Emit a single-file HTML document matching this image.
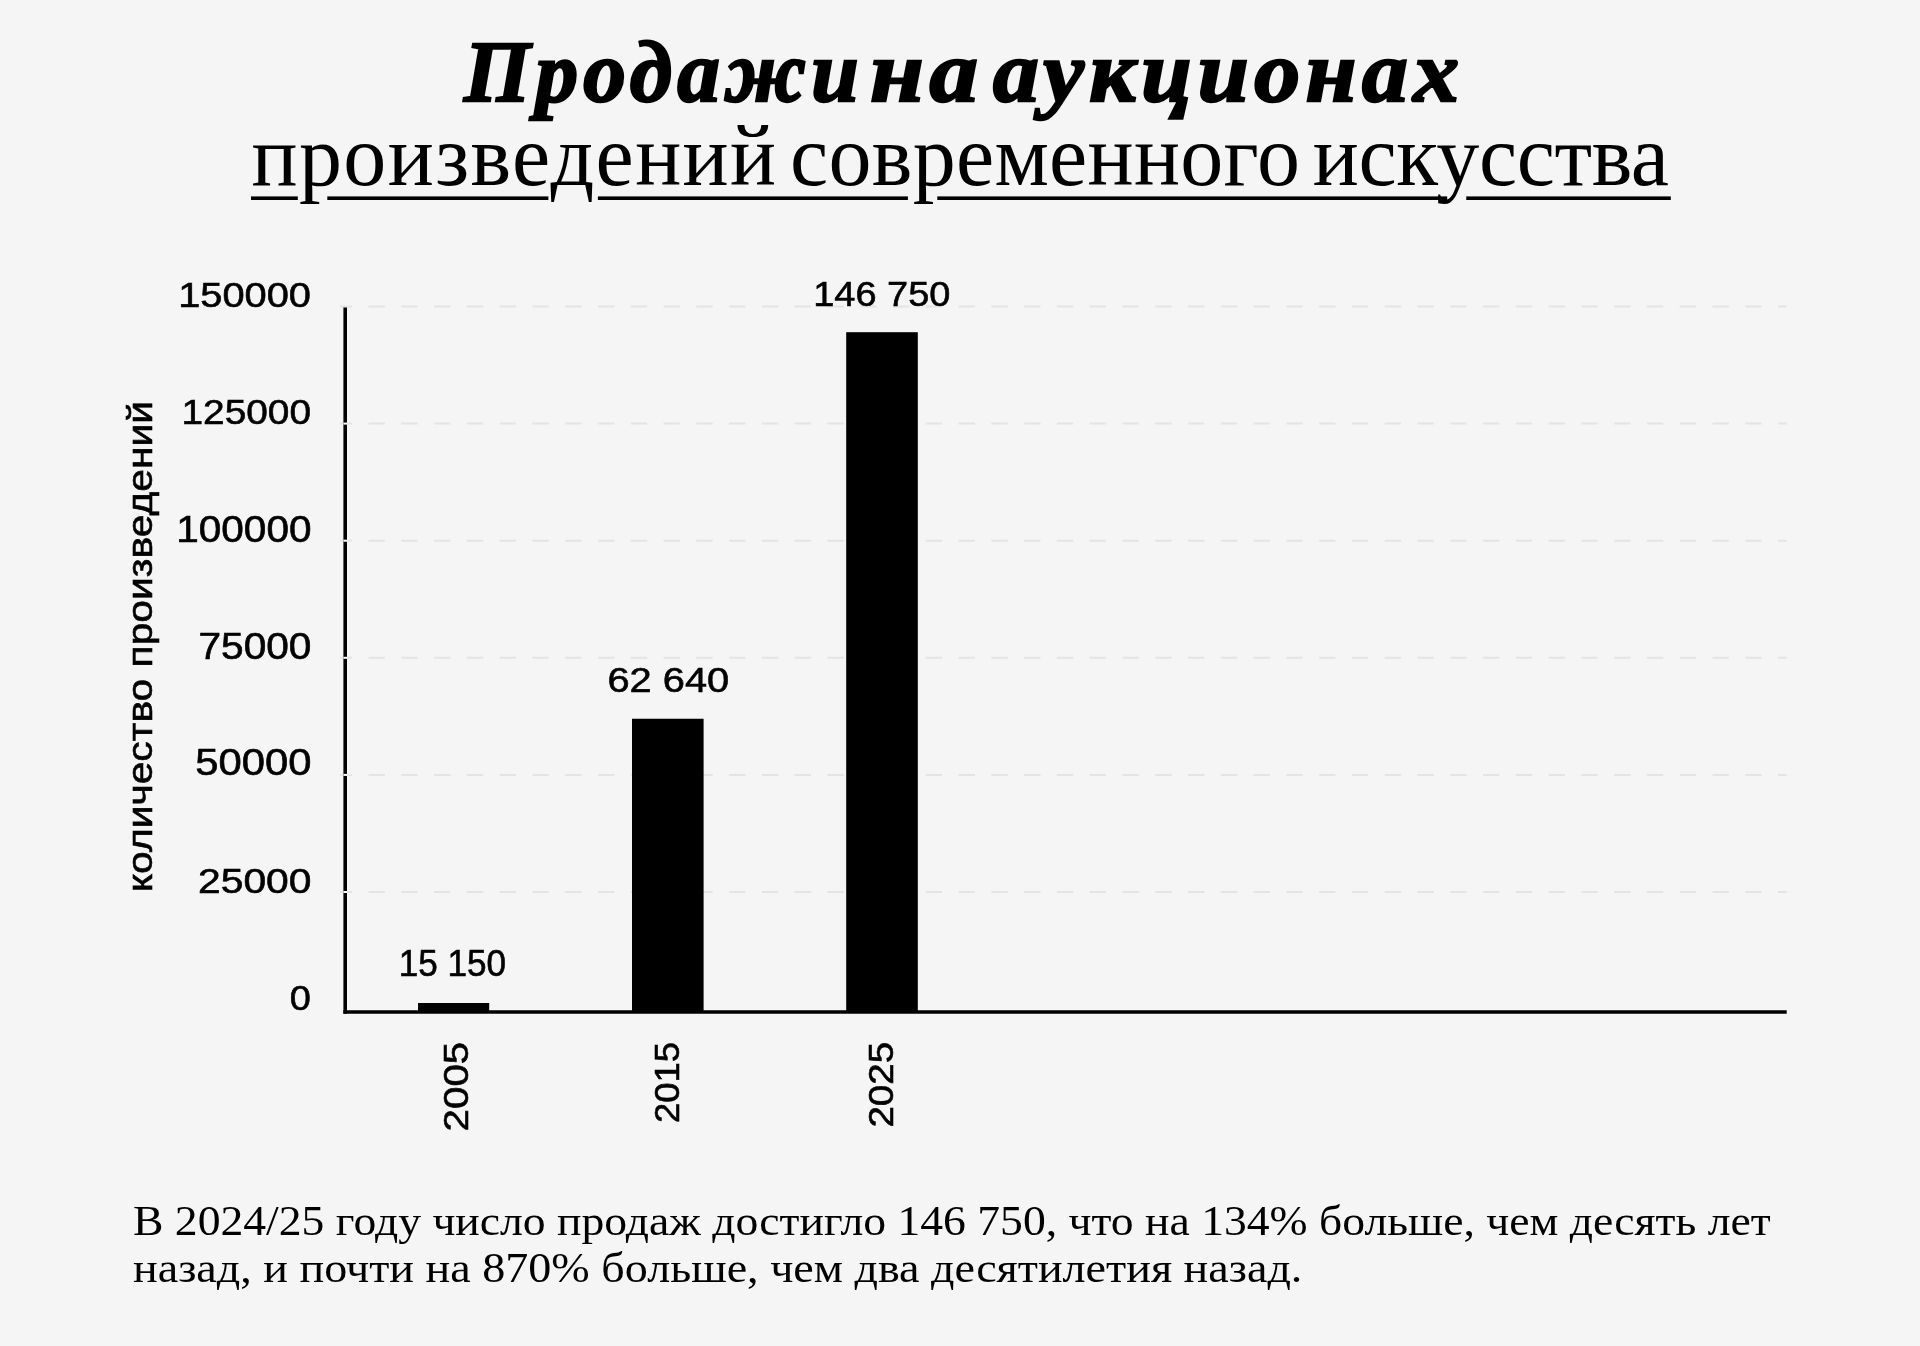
<!DOCTYPE html>
<html lang="ru">
<head>
<meta charset="utf-8">
<title>Продажи на аукционах произведений современного искусства</title>
<style>
html, body { margin: 0; padding: 0; }
.t1, .t2, .note, svg { will-change: transform; }
body { width: 1920px; height: 1346px; background: #f5f5f5; position: relative; overflow: hidden; color: #000; }
.t1 { position: absolute; left: 0; top: 22px; width: 1920px; height: 100px;
  font-family: "Liberation Serif", serif; font-weight: bold; font-style: italic;
  font-size: 86px; line-height: 100px; letter-spacing: 5.2px; white-space: nowrap; -webkit-text-stroke: 2.4px #000; }
.t1 span { position: absolute; top: 0; transform-origin: 0 0; }
.t2 { position: absolute; left: 0; width: 1920px; text-align: center; top: 105.6px;
  font-family: "Liberation Serif", serif; font-weight: normal;
  font-size: 86px; line-height: 100px; white-space: nowrap; word-spacing: -9px; }
.note { position: absolute; left: 132.5px; width: 1600px; transform-origin: 0 0;
  font-family: "Liberation Serif", serif; font-size: 42px; line-height: 50px; white-space: nowrap; }
.n1 { top: 1196px; transform: scaleX(1.0866); }
.n2 { top: 1243.4px; transform: scaleX(1.0975); }
svg { position: absolute; left: 0; top: 0; }
svg text { font-family: "Liberation Sans", sans-serif; font-size: 36px; fill: #000; stroke: #000; stroke-width: 0.6px; }
</style>
</head>
<body>
<div class="t1"><span style="left:463.7px;transform:scaleX(0.991)">Продажи</span> <span style="left:869.9px;transform:scaleX(1.1255)">на</span> <span style="left:992.9px;transform:scaleX(1.065)">аукционах</span></div>
<div class="t2"><span class="u"><span style="letter-spacing:1.4px">произведений</span> <span style="letter-spacing:0.3px">современного</span> <span style="letter-spacing:-0.4px">искусства</span></span></div>

<svg width="1920" height="1346" viewBox="0 0 1920 1346">
  <g fill="#000">
    <rect x="251" y="196.4" width="46.8" height="3.6"/>
    <rect x="327.3" y="196.4" width="221.1" height="3.6"/>
    <rect x="597.9" y="196.4" width="310.0" height="3.6"/>
    <rect x="937.3" y="196.4" width="509.9" height="3.6"/>
    <rect x="1466.25" y="196.4" width="204.55" height="3.6"/>
  </g>
  <g stroke="#e4e4e4" stroke-width="2" stroke-dasharray="16.4 16.38" stroke-dashoffset="4.28" fill="none">
    <line x1="340" y1="306.5" x2="1786.7" y2="306.5"/>
    <line x1="340" y1="423.6" x2="1786.7" y2="423.6"/>
    <line x1="340" y1="540.7" x2="1786.7" y2="540.7"/>
    <line x1="340" y1="657.8" x2="1786.7" y2="657.8"/>
    <line x1="340" y1="774.9" x2="1786.7" y2="774.9"/>
    <line x1="340" y1="892" x2="1786.7" y2="892"/>
  </g>
  <!-- bars -->
  <rect x="418" y="1003" width="71.2" height="9" fill="#000"/>
  <rect x="632" y="718.75" width="71.6" height="293" fill="#000"/>
  <rect x="846.2" y="332.2" width="71.6" height="680" fill="#000"/>
  <!-- axes -->
  <line x1="345.2" y1="307.5" x2="345.2" y2="1013.8" stroke="#000" stroke-width="3.6"/>
  <line x1="343.4" y1="1012" x2="1786.7" y2="1012" stroke="#000" stroke-width="3.6"/>
  <g fill="#fff">
    <rect x="343.4" y="422.6" width="3.6" height="2"/>
    <rect x="343.4" y="539.7" width="3.6" height="2"/>
    <rect x="343.4" y="656.8" width="3.6" height="2"/>
    <rect x="343.4" y="773.9" width="3.6" height="2"/>
    <rect x="343.4" y="891" width="3.6" height="2"/>
  </g>
  <g class="lbl"><!--TXT-->
  <text transform="translate(178.18 307.30) scale(1.1062 1)">150000</text>
  <text transform="translate(181.45 423.60) scale(1.0788 1)">125000</text>
  <text transform="translate(176.23 541.50) scale(1.1260 1)">100000</text>
  <text transform="translate(198.41 659.00) scale(1.1299 1)">75000</text>
  <text transform="translate(195.28 774.80) scale(1.1616 1)">50000</text>
  <text transform="translate(198.00 893.10) scale(1.1340 1)">25000</text>
  <text transform="translate(289.80 1010.10) scale(1.0529 1)">0</text>
  <text transform="translate(398.80 976.20) scale(0.9750 1)">15 150</text>
  <text transform="translate(607.44 691.80) scale(1.1058 1)">62 640</text>
  <text transform="translate(813.21 306.00) scale(1.0545 1)">146 750</text>
  <text transform="translate(467.60 1131.38) rotate(-90) scale(1.1189 1)">2005</text>
  <text transform="translate(679.20 1123.02) rotate(-90) scale(1.0129 1)">2015</text>
  <text transform="translate(893.40 1127.61) rotate(-90) scale(1.0711 1)">2025</text>
  <text transform="translate(152.30 892.18) rotate(-90) scale(1.1328 1)">количество произведений</text>
  <!--/TXT--></g>
</svg>

<div class="note n1">В 2024/25 году число продаж достигло 146 750, что на 134% больше, чем десять лет</div>
<div class="note n2">назад, и почти на 870% больше, чем два десятилетия назад.</div>
</body>
</html>
